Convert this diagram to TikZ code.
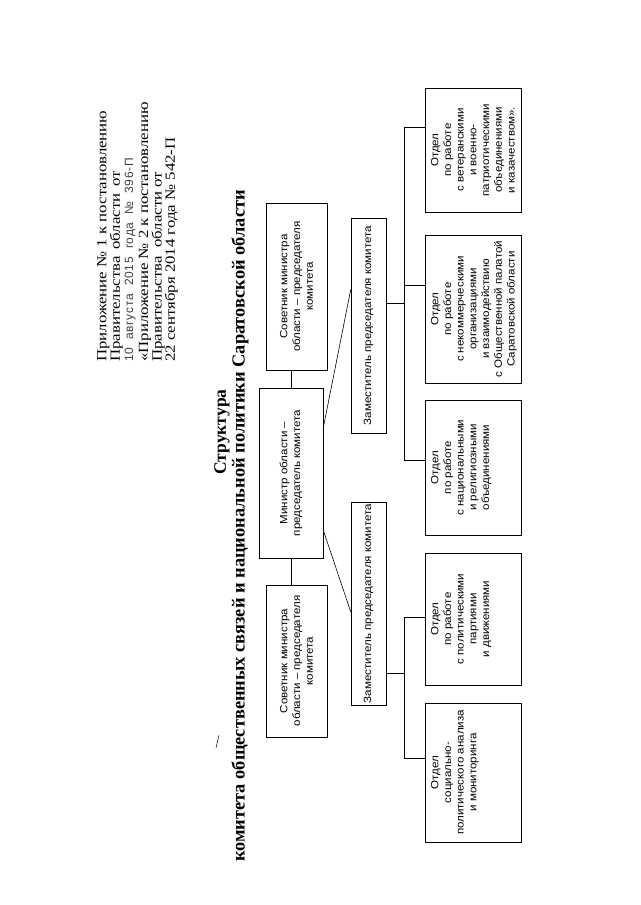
\documentclass[tikz,border=0pt]{standalone}
\usepackage{fontspec}
\setmainfont{Liberation Serif}
\setsansfont{Liberation Sans}
\newfontfamily\hdrfont[FakeStretch=1.2]{Liberation Serif}
\newfontfamily\boxfont[FakeStretch=1.1]{Liberation Sans}
\newfontfamily\stampfont[LetterSpace=6]{Liberation Sans}
\usetikzlibrary{positioning, calc}
\setlength{\lineskiplimit}{-20pt}
\tikzset{
	box/.style={draw, line width=.6pt, rotate=90, inner sep=0pt, align=center,
		font=\boxfont\fontsize{10.5}{12.7}\selectfont},
	otdel/.style={box, minimum height=96pt},
	zam/.style={box, minimum height=35pt},
	link/.style={line width=.6pt},
	hdr/.style={rotate=90, inner sep=0pt, align=left,
		font=\hdrfont\fontsize{14}{13.4}\selectfont},
	ttl/.style={rotate=90, inner sep=0pt, font=\bfseries\fontsize{17.5}{18}\selectfont}
}
\newcommand{\otdtext}[2]{\parbox[c][84pt][t]{#1}{\centering #2}}

\begin{document}
\begin{tikzpicture}[x=1pt, y=-1pt]
\useasboundingbox[fill=white] (0,0) rectangle (640,905);
% header
\node[hdr, anchor=north west] (app) at (97,362) {Приложение № 1 к постановлению\\
	Правительства \,области \,от\\
	{\stampfont\fontsize{12}{13.4}\selectfont\color{black!75}10\ \ августа\ \ 2015\ \ года\ \ № \ 396-П}\\[1.5pt]
	«Приложение № 2 к постановлению\\
	Правительства \ области от\\
	22 сентября 2014 года № 542-П};
\node[ttl] (ttl) at (222,432) {Структура};
\node[ttl, font=\bfseries\fontsize{18.4}{18}\selectfont] (sub) at (240,526) {комитета общественных связей и национальной политики Саратовской области};
\draw[line width=.5pt] (216,748) -- (219,735);
% top level
\node[box, minimum width=167pt, minimum height=61pt] (sovR) at (296.5,286.5) {Советник министра\\ области – председателя\\ комитета};
\node[box, minimum width=170pt, minimum height=64pt] (min) at (291,473) {Министр области –\\ председатель комитета};
\node[box, minimum width=152pt, minimum height=61pt] (sovL) at (296.5,661) {Советник министра\\ области – председателя\\ комитета};
\node[zam, minimum width=215pt] (zamR) at (368.5,325.5) {Заместитель председателя комитета};
\node[zam, minimum width=203pt] (zamL) at (368.5,603.5) {Заместитель председателя комитета};
% departments
\node[otdel, minimum width=124pt] (vet) at (473,150) {\otdtext{120pt}{Отдел\\ по работе\\ с ветеранскими\\ и военно-\\ патриотическими\\ объединениями\\ и казачеством».}};
\node[otdel, minimum width=148pt] (npo) at (473,309) {\otdtext{144pt}{Отдел\\ по работе\\ с некоммерческими\\ организациями\\ и взаимодействию\\ с Общественной палатой\\ Саратовской области}};
\node[otdel, minimum width=135pt] (nat) at (473,467.5) {\otdtext{131pt}{Отдел\\ по работе\\ с национальными\\ и религиозными\\ объединениями}};
\node[otdel, minimum width=132pt] (pol) at (473,619) {\otdtext{128pt}{Отдел\\ по работе\\ с политическими\\ партиями\\ и движениями}};
\node[otdel, minimum width=139pt] (soc) at (473,772.5) {\otdtext{135pt}{Отдел\\ социально-\\ политического анализа\\ и мониторинга}};
% buses
\coordinate (rt) at (404,127);
\coordinate (rm) at (404,285);
\coordinate (rz) at (404,303);
\coordinate (rb) at (404,460);
\coordinate (lt) at (404,617);
\coordinate (lz) at (404,673);
\coordinate (lb) at (404,758);
% links
\draw[link] (min.east) -- (min.east |- sovR.west);
\draw[link] (min.west) -- (min.west |- sovL.east);
\draw[link] ([yshift=-40pt]min.south east) -- ([yshift=-72pt]zamR.north east);
\draw[link] ([yshift=28pt]min.south west) -- ([yshift=-110pt]zamL.north east);
\draw[link] (vet.north |- rt) -- (rt) -- (rb) -- (nat.north |- rb);
\draw[link] (rm) -- (npo.north |- rm);
\draw[link] (zamR.south |- rz) -- (rz);
\draw[link] (pol.north |- lt) -- (lt) -- (lb) -- (soc.north |- lb);
\draw[link] (zamL.south |- lz) -- (lz);
\end{tikzpicture}
\end{document}
